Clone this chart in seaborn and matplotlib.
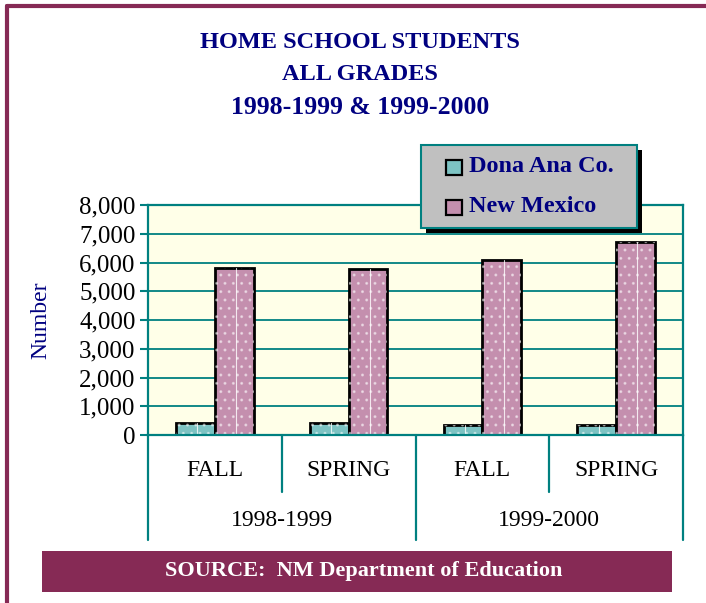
import matplotlib
matplotlib.use("Agg")
import matplotlib.pyplot as plt
import matplotlib.patches as mpatches
import matplotlib.transforms as mtransforms
import seaborn as sns
import pandas as pd

# Home-school enrolment counts by semester
years = ["1998-1999", "1998-1999", "1999-2000", "1999-2000"]
seasons = ["FALL", "SPRING", "FALL", "SPRING"]
dona_ana = [430, 420, 350, 350]
new_mexico = [5820, 5765, 6100, 6725]
series_names = ["Dona Ana Co.", "New Mexico"]
y_ticks = [0, 1000, 2000, 3000, 4000, 5000, 6000, 7000, 8000]

NAVY = "#000080"
TEAL = "#008080"
MAROON = "#862A55"
TEAL_BAR = "#7DC3C3"
PINK_BAR = "#C48FAE"

sns.set_theme(style="white")
plt.rcParams["font.family"] = ["Liberation Serif", "DejaVu Serif"]

slots = [f"{s}\n{y}#{i}" for i, (s, y) in enumerate(zip(seasons, years))]
df = pd.DataFrame({
    "slot": slots * 2,
    "series": [series_names[0]] * 4 + [series_names[1]] * 4,
    "value": dona_ana + new_mexico,
})

fig = plt.figure(figsize=(7.06, 6.03), dpi=100)
ax = fig.add_axes([148 / 706, 1 - 435 / 603, 535 / 706, 230 / 603])
ax.set_facecolor("#FFFFE8")

sns.barplot(data=df, x="slot", y="value", hue="series",
            palette=[TEAL_BAR, PINK_BAR], width=0.58, gap=0,
            edgecolor="black", linewidth=2.0, ax=ax, legend=False,
            saturation=1)

# light dotted texture with a thin white stripe on each bar
for p in list(ax.patches):
    x0, y0, w, h = p.get_x(), p.get_y(), p.get_width(), p.get_height()
    tex = mpatches.Rectangle((x0, y0), w, h, facecolor="none",
                             edgecolor="white", hatch="..", linewidth=0,
                             alpha=0.45, zorder=p.get_zorder() + 0.1)
    ax.add_patch(tex)
    ax.plot([x0 + w * 0.55, x0 + w * 0.55], [y0, y0 + h], color="white",
            lw=0.8, alpha=0.8, zorder=p.get_zorder() + 0.2)

ax.set_ylim(0, 8000)
ax.set_xlim(-0.5, 3.5)
ax.set_yticks(y_ticks)
ax.set_yticklabels([f"{v:,}" for v in y_ticks], fontsize=18, color="black")
ax.yaxis.grid(True, color=TEAL, linewidth=1.3)
ax.set_axisbelow(True)
ax.tick_params(axis="y", length=6, width=1.5, color=TEAL, pad=3, left=True)
ax.set_xticks([])
ax.set_xlabel("")
ax.set_ylabel("Number", fontsize=17, color=NAVY, labelpad=20)
for side in ["left", "right", "top", "bottom"]:
    ax.spines[side].set_visible(True)
    ax.spines[side].set_color(TEAL)
    ax.spines[side].set_linewidth(1.6)

# two-level category axis below the plot
trans = mtransforms.blended_transform_factory(ax.transData, fig.transFigure)
def fy(py):
    return 1 - py / 603
for xb, bottom in [(-0.5, 540), (0.5, 492), (1.5, 540), (2.5, 492), (3.5, 540)]:
    ax.plot([xb, xb], [fy(435), fy(bottom)], color=TEAL, lw=1.6,
            transform=trans, clip_on=False)
for i, s in enumerate(seasons):
    ax.text(i, fy(471), s, transform=trans, ha="center", va="center",
            fontsize=17, color="black")
for i, y in enumerate(dict.fromkeys(years)):
    ax.text(2 * i + 0.5, fy(521), y, transform=trans, ha="center",
            va="center", fontsize=17, color="black")

# title
for txt, py, fs in [("HOME SCHOOL STUDENTS", 42, 17.5), ("ALL GRADES", 75, 17.5),
                    ("1998-1999 & 1999-2000", 108, 18.5)]:
    fig.text(360 / 706, fy(py), txt, ha="center", va="center",
             fontsize=fs, fontweight="bold", color=NAVY)

# legend box with drop shadow
lx0, ly0, lx1, ly1 = 421, 145, 637, 228
fig.add_artist(mpatches.Rectangle(((lx0 + 5) / 706, fy(ly1 + 5)), (lx1 - lx0) / 706,
                                  (ly1 - ly0) / 603, transform=fig.transFigure,
                                  facecolor="black", edgecolor="none", zorder=5))
fig.add_artist(mpatches.Rectangle((lx0 / 706, fy(ly1)), (lx1 - lx0) / 706,
                                  (ly1 - ly0) / 603, transform=fig.transFigure,
                                  facecolor="#C0C0C0", edgecolor=TEAL,
                                  linewidth=1.5, zorder=6))
for name, col, py in [(series_names[0], TEAL_BAR, 167), (series_names[1], PINK_BAR, 207)]:
    fig.add_artist(mpatches.Rectangle((446 / 706, fy(py + 8)), 16 / 706, 15 / 603,
                                      transform=fig.transFigure, facecolor=col,
                                      edgecolor="black", linewidth=1.6, zorder=7))
    fig.text(469 / 706, fy(py), name, ha="left", va="center", fontsize=17.5,
             fontweight="bold", color=NAVY, zorder=8)

# source banner
fig.add_artist(mpatches.Rectangle((42 / 706, fy(592)), 630 / 706, 41 / 603,
                                  transform=fig.transFigure, facecolor=MAROON,
                                  edgecolor="none"))
fig.text(364 / 706, fy(571), "SOURCE:  NM Department of Education",
         ha="center", va="center", fontsize=16, fontweight="bold",
         color="white")

# page frame
fig.add_artist(plt.Line2D([7 / 706, 7 / 706], [0, fy(6)], color=MAROON, lw=3,
                          transform=fig.transFigure))
fig.add_artist(plt.Line2D([7 / 706, 1], [fy(6), fy(6)], color=MAROON, lw=3,
                          transform=fig.transFigure))

fig.savefig("out.png", dpi=100)
